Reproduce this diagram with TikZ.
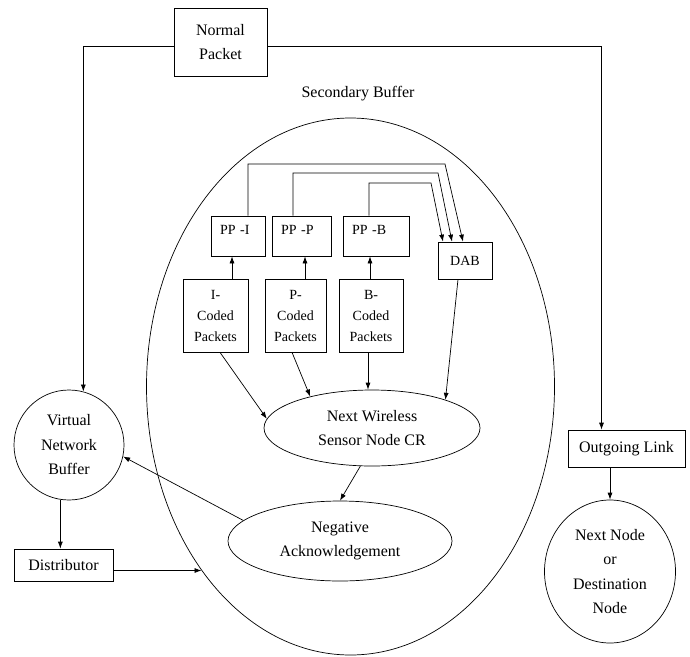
\documentclass[tikz,border=0pt]{standalone}
\usepackage{fontspec}
\setmainfont{Liberation Serif}
\usetikzlibrary{shapes}
\usetikzlibrary{arrows.meta}

\begin{document}
\begin{tikzpicture}[x=1pt,y=-1pt]
	\tikzstyle{box}=[draw,rectangle,inner sep=0pt,line width=0.7pt,font=\fontsize{16}{24.5}\selectfont,align=center]
	\tikzstyle{small box}=[box,font=\fontsize{14}{21}\selectfont]
	\tikzstyle{pp box}=[small box,align=left,inner xsep=9pt,text depth=12pt,minimum height=40pt]
	\tikzstyle{blob}=[draw,ellipse,inner sep=0pt,line width=0.7pt,font=\fontsize{16}{24.5}\selectfont,align=center]
	\tikzstyle{edge}=[-{Latex[length=7pt,width=5pt]},line width=0.7pt]

	\useasboundingbox (0,0) rectangle (690,656);

	% outside the buffer
	\node[box,minimum width=93pt,minimum height=68pt] (np) at (220.5,42) {Normal\\Packet};
	\node[blob,minimum width=110pt,minimum height=110pt] (vnb) at (69,445) {Virtual\\Network\\Buffer};
	\node[box,minimum width=99pt,minimum height=32pt] (dist) at (63.5,565) {Distributor};
	\node[box,minimum width=117pt,minimum height=37pt] (ol) at (626.5,448.5) {Outgoing Link};
	\node[blob,minimum width=131pt,minimum height=143pt] (nn) at (610,571.5) {Next Node\\or\\Destination\\Node};

	% secondary buffer
	\node[blob,minimum width=408pt,minimum height=537pt] (sb) at (350.5,386.5) {};
	\node[font=\fontsize{16}{24.5}\selectfont] (sbl) at (358,94) {Secondary Buffer};

	\node[pp box,text width=36pt] (ppi) at (238,236) {PP -I};
	\node[pp box,text width=41pt] (ppp) at (301.5,236) {PP -P};
	\node[pp box,text width=48pt] (ppb) at (376,236) {PP -B};
	\node[small box,minimum width=54pt,minimum height=37pt] (dab) at (465,260.5) {DAB};

	\node[small box,minimum width=65pt,minimum height=73pt] (ic) at (215.5,315.5) {I-\\Coded\\Packets};
	\node[small box,minimum width=61pt,minimum height=73pt] (pc) at (295.5,315.5) {P-\\Coded\\Packets};
	\node[small box,minimum width=64pt,minimum height=73pt] (bc) at (371,315.5) {B-\\Coded\\Packets};

	\node[blob,minimum width=216pt,minimum height=76pt] (nw) at (372,428) {Next Wireless\\Sensor Node CR};
	\node[blob,minimum width=224pt,minimum height=80pt] (na) at (340,541) {Negative\\Acknowledgement};

	% connectors
	\draw[edge] ([yshift=-4pt]np.west) -| (vnb.75);
	\draw[edge] ([yshift=-4pt]np.east) -| ([xshift=-25pt]ol.north);
	\draw[edge] (nn.north |- ol.south) -- (nn.north);
	\draw[edge] (vnb.261) -- (vnb.261 |- dist.north);
	\draw[edge] (dist.east |- sb.231) -- (sb.231);

	\draw[edge] ([xshift=16.5pt]ic.north) -- ([xshift=-6pt]ppi.south);
	\draw[edge] ([xshift=9.5pt]pc.north) -- ([xshift=3.5pt]ppp.south);
	\draw[edge] ([xshift=-1pt]bc.north) -- ([xshift=-6pt]ppb.south);

	\draw[edge] ([xshift=10pt]ppi.north) |- (445,164) -- ([xshift=-2pt]dab.north);
	\draw[edge] ([xshift=-8.5pt]ppp.north) |- (438,173) -- ([xshift=-13pt]dab.north);
	\draw[edge] ([xshift=-7pt]ppb.north) |- (431,183) -- ([xshift=-22pt]dab.north);

	\draw[edge] ([xshift=4.5pt]ic.south) -- (nw.175);
	\draw[edge] ([xshift=-3.5pt]pc.south) -- (nw.153);
	\draw[edge] ([xshift=-3pt]bc.south) -- ([xshift=-4pt]nw.north);
	\draw[edge] ([xshift=-7pt]dab.south) -- (nw.21);
	\draw[edge] (nw.253) -- (na.north);
	\draw[edge] (na.168) -- (vnb.348);
\end{tikzpicture}
\end{document}
